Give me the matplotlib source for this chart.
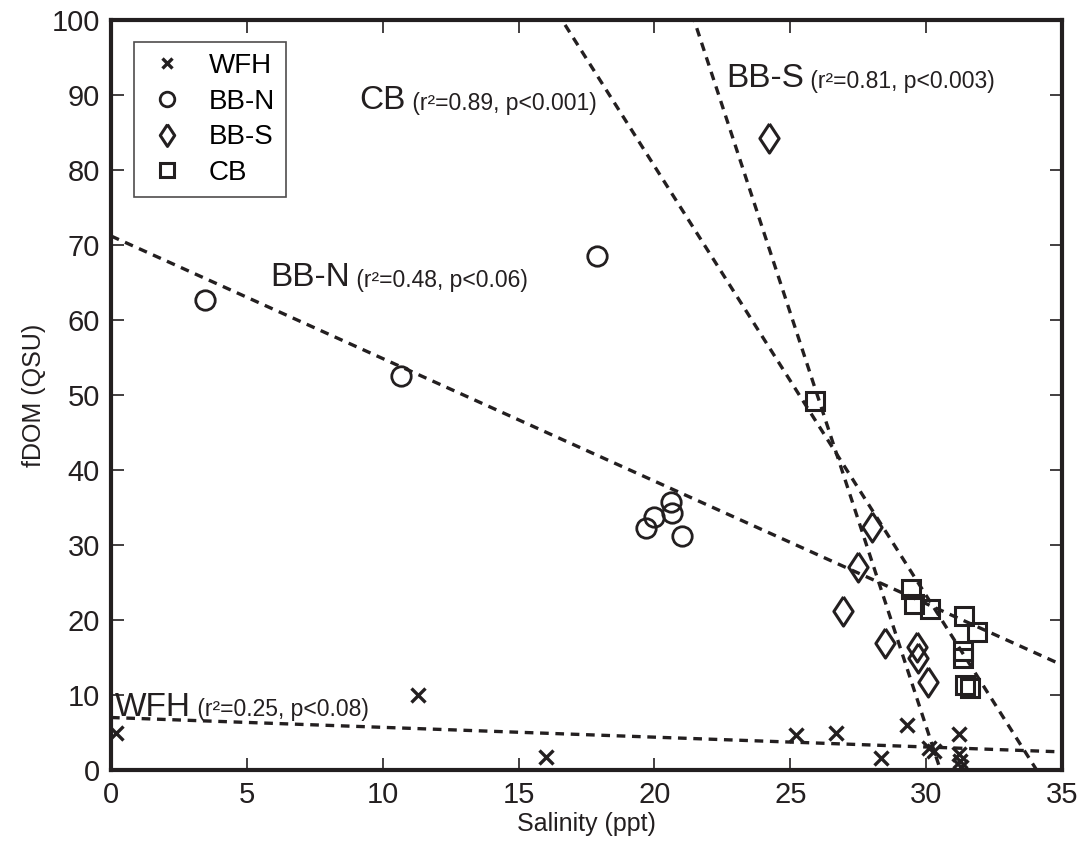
import numpy as np
import matplotlib.pyplot as plt

plt.rcParams['font.family'] = ['Liberation Sans', 'DejaVu Sans']

# --- datos ---
wfh_sal = [0.2, 11.3, 16.0, 25.2, 26.7, 28.35, 29.3, 30.1, 30.3, 31.2, 31.2, 31.25, 31.3]
wfh_fdom = [5.0, 10.0, 1.8, 4.7, 4.9, 1.6, 6.0, 2.9, 2.5, 4.8, 2.1, 1.2, 0.4]

bbn_sal = [3.46, 10.67, 17.9, 19.7, 19.98, 20.6, 20.65, 21.0]
bbn_fdom = [62.7, 52.5, 68.5, 32.3, 33.7, 35.8, 34.3, 31.2]

bbs_sal = [24.2, 28.0, 27.5, 26.95, 28.5, 29.65, 29.7, 30.08]
bbs_fdom = [84.2, 32.4, 27.1, 21.2, 16.9, 16.4, 14.9, 11.8]

cb_sal = [25.9, 29.45, 29.55, 30.15, 31.4, 31.86, 31.37, 31.37, 31.43, 31.62]
cb_fdom = [49.2, 24.2, 22.1, 21.5, 20.6, 18.4, 15.9, 14.9, 11.3, 10.9]

# regresiones (intercepto, pendiente)
fits = {
    'WFH': (7.0, -0.131),
    'BB-N': (71.2, -1.634),
    'BB-S': (336.7, -11.03),
    'CB': (195.0, -5.724),
}

labels = [
    ('WFH', '(r\u00b2=0.25, p<0.08)', 0.15, 8.4),
    ('BB-N', '(r\u00b2=0.48, p<0.06)', 5.85, 65.6),
    ('CB', '(r\u00b2=0.89, p<0.001)', 9.15, 89.2),
    ('BB-S', '(r\u00b2=0.81, p<0.003)', 22.65, 92.2),
]

ink = '#231f20'
# rombo algo mas ancho que el 'd' de matplotlib
rombo = [(0, 1), (0.66, 0), (0, -1), (-0.66, 0), (0, 1)]

fig = plt.figure(figsize=(10.83, 8.5), dpi=100)
ax = fig.add_axes([0.1025, 0.0941, 0.8781, 0.8824])

xs = np.array([0, 35])
for name, (b0, b1) in fits.items():
    ax.plot(xs, b0 + b1 * xs, linestyle=(0, (2.6, 2.0)), color=ink, linewidth=2.4, zorder=1)

ax.plot(wfh_sal, wfh_fdom, 'x', color=ink, ms=10, mew=2.4, label='WFH', zorder=3)
ax.plot(bbn_sal, bbn_fdom, 'o', mfc='none', mec=ink, ms=14, mew=2.0, label='BB-N', zorder=3)
ax.plot(bbs_sal, bbs_fdom, linestyle='none', marker=rombo, mfc='none', mec=ink, ms=21,
        mew=2.2, label='BB-S', zorder=3)
ax.plot(cb_sal, cb_fdom, 's', mfc='none', mec=ink, ms=13, mew=2.2, label='CB', zorder=3)

for big, small, x0, y0 in labels:
    t = ax.text(x0, y0, big, fontsize=24, color=ink, va='center', ha='left')
    ax.annotate(' ' + small, xycoords=t, xy=(1, 0.2), va='baseline', ha='left',
                fontsize=16.5, color=ink)

ax.set_xlim(0, 35)
ax.set_ylim(0, 100)
ax.set_xticks(np.arange(0, 36, 5))
ax.set_yticks(np.arange(0, 101, 10))
ax.tick_params(direction='in', length=9, width=1.2, top=True, right=True,
               labelsize=21, colors=ink, pad=8)
for s in ax.spines.values():
    s.set_linewidth(3)
    s.set_color(ink)

ax.set_xlabel('Salinity (ppt)', fontsize=18, color=ink, labelpad=2)
ax.set_ylabel('fDOM (QSU)', fontsize=18, color=ink, labelpad=4)

leg = ax.legend(loc='upper left', bbox_to_anchor=(0.024, 0.971), fontsize=20,
                frameon=True, fancybox=False, edgecolor=ink, handlelength=1.6,
                handletextpad=0.7, borderpad=0.4, labelspacing=0.35, borderaxespad=0,
                markerscale=0.75)
leg.get_frame().set_linewidth(1.2)

fig.savefig('out.png', dpi=100)
